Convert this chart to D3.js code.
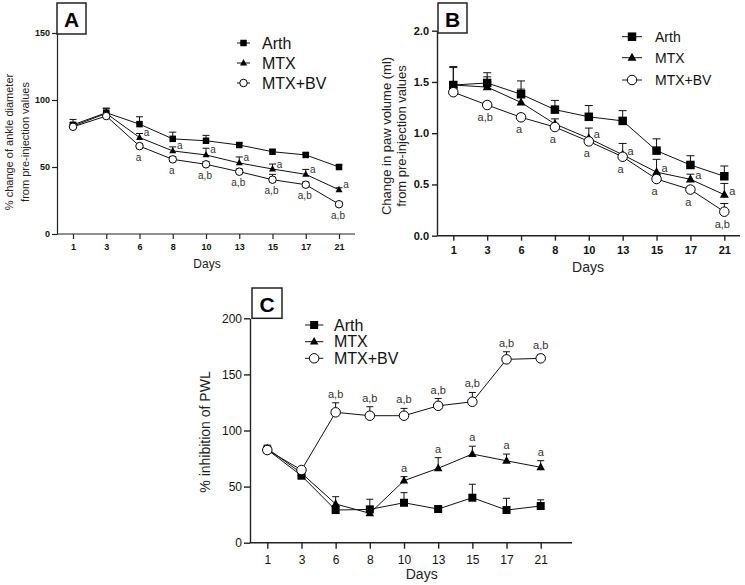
<!DOCTYPE html>
<html><head><meta charset="utf-8">
<script src="https://cdn.jsdelivr.net/npm/d3@7"></script>
<style>
html,body{margin:0;padding:0;background:#fff;}
svg{display:block;font-family:"Liberation Sans",Arial,sans-serif;}
</style></head>
<body>
<svg id="chart" width="745" height="585"></svg>
<script>
// ---------- DATA ----------
const days = ["1","3","6","8","10","13","15","17","21"];
const seriesNames = ["Arth","MTX","MTX+BV"];

// Panel A: % change of ankle diameter
const aArth    = [81.5, 90.5, 82, 71, 69.6, 66.4, 61.4, 59, 50];
const aArthErr = [4, 3.5, 5.5, 5, 4, 1.5, 1.5, 1.5, 1.5];
const aMTX     = [80.5, 90, 72, 62, 59, 53, 48.5, 44.5, 33];
const aMTXErr  = [2.5, 3.5, 3, 3, 5, 4.5, 3.7, 3.7, 1.5];
const aBV      = [80, 88, 65.6, 55.7, 52, 46.5, 40.5, 36.8, 22.2];
const aBVErr   = [2, 3, 2, 2, 2, 2, 4, 2, 1.5];
const aMTXLabels = ["","","a","a","a","a","a","a","a"];
const aBVLabels  = ["","","a","a","a,b","a,b","a,b","a,b","a,b"];
const aTicks = [0, 50, 100, 150];

// Panel B: change in paw volume (ml)
const bArth    = [1.47, 1.49, 1.38, 1.23, 1.16, 1.12, 0.83, 0.69, 0.58];
const bArthErr = [0.17, 0.1, 0.13, 0.09, 0.11, 0.1, 0.115, 0.09, 0.1];
const bMTX     = [1.47, 1.45, 1.30, 1.09, 0.95, 0.79, 0.62, 0.55, 0.40];
const bMTXErr  = [0.18, 0.1, 0.13, 0.05, 0.1, 0.11, 0.125, 0.05, 0.11];
const bBV      = [1.40, 1.275, 1.155, 1.06, 0.92, 0.77, 0.553, 0.45, 0.234];
const bBVErr   = [0.03, 0.03, 0.03, 0.03, 0.03, 0.03, 0.03, 0.03, 0.08];
const bMTXLabels = ["","","","","a","a","a","a","a"];
const bBVLabels  = ["","a,b","a","a","a","a","a","a","a,b"];
const bTicks = [0, 0.5, 1.0, 1.5, 2.0];

// Panel C: % inhibition of PWL
const cArth    = [83, 59.7, 29.1, 29.7, 35.6, 30, 40.1, 29.1, 32.7];
const cArthErr = [3, 2, 4, 9, 9, 1.5, 12, 10.5, 5.5];
const cMTX     = [84, 62, 34.5, 26.2, 55.3, 66.3, 79, 73, 67.2];
const cMTXErr  = [3, 2, 6.5, 3, 3.6, 9.5, 7, 6, 5.9];
const cBV      = [82.6, 64.8, 116.2, 113.2, 113.2, 122, 125.6, 163.4, 164.3];
const cBVErr   = [2, 2, 8.5, 8, 6.5, 6.5, 8.3, 6.8, 3.5];
const cMTXLabels = ["","","","","a","a","a","a","a"];
const cBVLabels  = ["","","a,b","a,b","a,b","a,b","a,b","a,b","a,b"];
const cTicks = [0, 50, 100, 150, 200];

// ---------- DRAWING ----------
const svg = d3.select("#chart");
const FONT = '"Liberation Sans",Arial,sans-serif';

function marker(g, type, x, y, s) {
  if (type === "square") {
    g.append("rect").attr("x", x - s/2).attr("y", y - s/2).attr("width", s).attr("height", s).attr("fill", "#000");
  } else if (type === "triangle") {
    const h = s * 0.9;
    g.append("path").attr("d", `M${x},${y - h*0.62}L${x + s/2},${y + h*0.38}L${x - s/2},${y + h*0.38}Z`).attr("fill", "#000");
  } else {
    g.append("circle").attr("cx", x).attr("cy", y).attr("r", s/2).attr("fill", "#fff").attr("stroke", "#000").attr("stroke-width", 1);
  }
}

function panel(cfg) {
  const g = svg.append("g");
  const x = d3.scalePoint().domain(days).range(cfg.xRange);
  const y = d3.scaleLinear().domain(cfg.yDomain).range(cfg.yRange);

  // y axis
  const ya = g.append("g").attr("transform", `translate(${cfg.axisX},0)`)
    .call(d3.axisLeft(y).tickValues(cfg.ticks).tickFormat(cfg.fmt).tickSize(cfg.tickLen).tickPadding(cfg.yPad).tickSizeOuter(0));
  ya.select(".domain").attr("stroke", "#222").attr("stroke-width", cfg.axisW);
  ya.selectAll(".tick line").attr("stroke", "#222").attr("stroke-width", cfg.axisW);
  ya.selectAll(".tick text").attr("font-family", FONT).attr("font-size", cfg.tickFont).attr("font-weight", cfg.tickWeight).attr("fill", "#111");

  // x axis
  const xa = g.append("g").attr("transform", `translate(0,${cfg.yRange[0]})`)
    .call(d3.axisBottom(x).tickSize(cfg.tickLen).tickPadding(cfg.xPad).tickSizeOuter(0));
  xa.select(".domain").remove();
  xa.append("line").attr("x1", cfg.axisX).attr("x2", cfg.axisXEnd).attr("y1", 0).attr("y2", 0)
    .attr("stroke", "#222").attr("stroke-width", cfg.axisW);
  xa.selectAll(".tick line").attr("stroke", "#222").attr("stroke-width", cfg.axisW);
  xa.selectAll(".tick text").attr("font-family", FONT).attr("font-size", cfg.tickFont).attr("font-weight", cfg.tickWeight).attr("fill", "#111");

  // axis titles
  g.append("text").attr("x", cfg.daysPos[0]).attr("y", cfg.daysPos[1]).attr("text-anchor", "middle")
    .attr("dominant-baseline", "central").attr("font-size", cfg.daysFont).attr("fill", "#222").text("Days");
  cfg.yLabel.forEach((t, i) => {
    g.append("text").attr("transform", `translate(${cfg.yLabelX[i]},${cfg.yLabelY}) rotate(-90)`)
      .attr("text-anchor", "middle").attr("dominant-baseline", "central")
      .attr("font-size", cfg.yLabelFont).attr("fill", "#222").text(t);
  });

  // panel letter box
  g.append("rect").attr("x", cfg.box[0]).attr("y", cfg.box[1]).attr("width", cfg.box[2]).attr("height", cfg.box[3])
    .attr("fill", "#fff").attr("stroke", "#222").attr("stroke-width", 1.5);
  g.append("text").attr("x", cfg.box[0] + cfg.box[2]/2).attr("y", cfg.box[1] + cfg.box[3]/2 + 1)
    .attr("text-anchor", "middle").attr("dominant-baseline", "central")
    .attr("font-size", cfg.letterFont).attr("font-weight", "bold").text(cfg.letter);

  const series = [
    {vals: cfg.arth, err: cfg.arthErr, type: "square", size: cfg.sq},
    {vals: cfg.mtx, err: cfg.mtxErr, type: "triangle", size: cfg.tri},
    {vals: cfg.bv, err: cfg.bvErr, type: "circle", size: cfg.circ}
  ];
  const line = d3.line().x((d, i) => x(days[i])).y(d => y(d));

  // error bars (upper)
  series.forEach(s => {
    s.vals.forEach((v, i) => {
      const xx = x(days[i]);
      g.append("line").attr("x1", xx).attr("x2", xx).attr("y1", y(v)).attr("y2", y(v + s.err[i]))
        .attr("stroke", "#111").attr("stroke-width", 1);
      g.append("line").attr("x1", xx - cfg.cap/2).attr("x2", xx + cfg.cap/2)
        .attr("y1", y(v + s.err[i])).attr("y2", y(v + s.err[i])).attr("stroke", "#111").attr("stroke-width", 1);
    });
  });
  // lines
  series.forEach(s => {
    g.append("path").attr("d", line(s.vals)).attr("fill", "none").attr("stroke", "#111").attr("stroke-width", 1);
  });
  // markers
  series.forEach(s => {
    s.vals.forEach((v, i) => marker(g, s.type, x(days[i]), y(v), s.size));
  });

  // annotations
  cfg.annotations(g, x, y);

  // legend
  series.forEach((s, i) => {
    const ly = cfg.legY[i];
    g.append("line").attr("x1", cfg.legLine[0]).attr("x2", cfg.legLine[1]).attr("y1", ly).attr("y2", ly)
      .attr("stroke", "#111").attr("stroke-width", 1);
    marker(g, s.type, (cfg.legLine[0] + cfg.legLine[1]) / 2, ly, s.size);
    g.append("text").attr("x", cfg.legTextX).attr("y", ly).attr("dominant-baseline", "central")
      .attr("font-size", cfg.legFont).attr("fill", "#111").text(seriesNames[i]);
  });
}

function ann(g, txt, xx, yy, size) {
  if (!txt) return;
  g.append("text").attr("x", xx).attr("y", yy).attr("text-anchor", "middle").attr("dominant-baseline", "central")
    .attr("font-size", size).attr("fill", "#333").text(txt);
}

// Panel A
panel({
  letter: "A", box: [57, 3, 29, 31], letterFont: 21,
  xRange: [73, 339], axisX: 57, axisXEnd: 355,
  yDomain: [0, 150], yRange: [234, 33], ticks: aTicks, fmt: d3.format("d"),
  tickLen: 5, yPad: 2, xPad: 5, tickFont: 9, tickWeight: "bold", axisW: 1.2,
  daysPos: [207, 264], daysFont: 12,
  yLabel: ["% change of ankle diameter", "from pre-injection values"], yLabelX: [9, 24.5], yLabelY: 142, yLabelFont: 11,
  arth: aArth, arthErr: aArthErr, mtx: aMTX, mtxErr: aMTXErr, bv: aBV, bvErr: aBVErr,
  sq: 6.5, tri: 7, circ: 7.5, cap: 7,
  legY: [43, 63, 83], legLine: [237, 250], legTextX: 262, legFont: 16,
  annotations: (g, x, y) => {
    days.forEach((d, i) => {
      ann(g, aMTXLabels[i], x(d) + 7, y(aMTX[i]) - 5, 10);
      ann(g, aBVLabels[i], x(d) - 1, y(aBV[i]) + 11, 10);
    });
  }
});

// Panel B
panel({
  letter: "B", box: [438, 3, 29, 30], letterFont: 21,
  xRange: [453.3, 724.3], axisX: 437, axisXEnd: 740,
  yDomain: [0, 2], yRange: [235.7, 30.7], ticks: bTicks, fmt: d3.format(".1f"),
  tickLen: 5, yPad: 3, xPad: 6, tickFont: 11, tickWeight: "bold", axisW: 1.4,
  daysPos: [588, 266.7], daysFont: 14,
  yLabel: ["Change in paw volume (ml)", "from pre-injection values"], yLabelX: [386, 401], yLabelY: 136, yLabelFont: 13,
  arth: bArth, arthErr: bArthErr, mtx: bMTX, mtxErr: bMTXErr, bv: bBV, bvErr: bBVErr,
  sq: 8.5, tri: 9, circ: 9.5, cap: 8,
  legY: [36.7, 57.7, 80], legLine: [622, 642], legTextX: 655, legFont: 14,
  annotations: (g, x, y) => {
    days.forEach((d, i) => {
      ann(g, bMTXLabels[i], x(d) + 8, y(bMTX[i]) - 4, 11);
      ann(g, bBVLabels[i], x(d) - 2, y(bBV[i]) + 12, 11);
    });
  }
});

// Panel C
panel({
  letter: "C", box: [252, 288, 30, 30.3], letterFont: 21,
  xRange: [267.3, 540.7], axisX: 250, axisXEnd: 572,
  yDomain: [0, 200], yRange: [542.7, 318.3], ticks: cTicks, fmt: d3.format("d"),
  tickLen: 6, yPad: 2, xPad: 7, tickFont: 12, tickWeight: "normal", axisW: 1.4,
  daysPos: [421.7, 574], daysFont: 14,
  yLabel: ["% inhibition of PWL"], yLabelX: [205], yLabelY: 432, yLabelFont: 14,
  arth: cArth, arthErr: cArthErr, mtx: cMTX, mtxErr: cMTXErr, bv: cBV, bvErr: cBVErr,
  sq: 8, tri: 8.5, circ: 9.5, cap: 7,
  legY: [325, 341.7, 358.3], legLine: [305, 323.3], legTextX: 334, legFont: 16,
  annotations: (g, x, y) => {
    days.forEach((d, i) => {
      ann(g, cMTXLabels[i], x(d), y(cMTX[i] + cMTXErr[i]) - 9, 11);
      ann(g, cBVLabels[i], x(d), y(cBV[i] + cBVErr[i]) - 9, 11);
    });
  }
});
</script>
</body></html>
